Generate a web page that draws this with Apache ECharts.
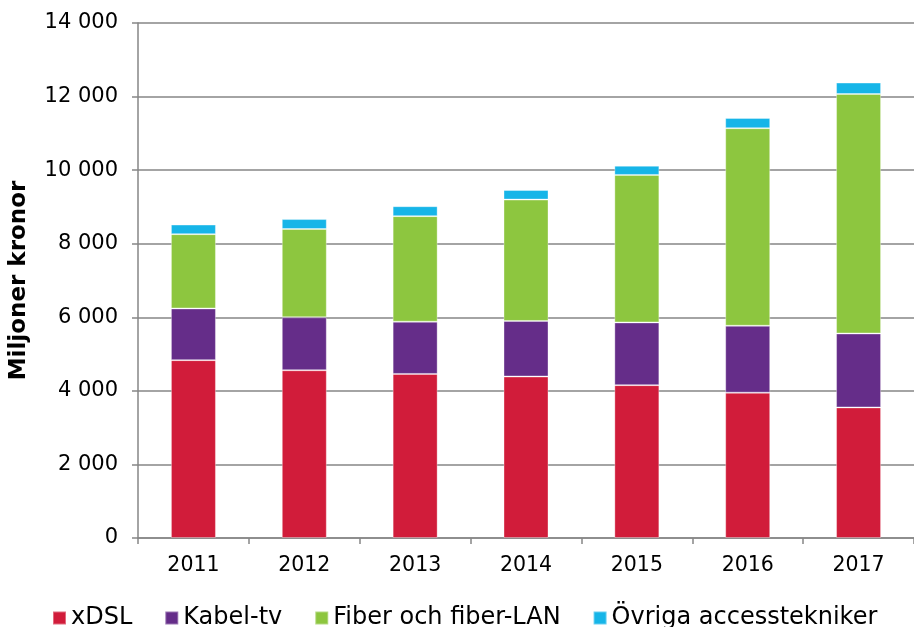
<!DOCTYPE html>
<html>
<head>
<meta charset="utf-8">
<script src="https://cdn.jsdelivr.net/npm/echarts@6/dist/echarts.min.js"></script>
<style>
  html, body { margin: 0; padding: 0; background: #fff; }
  #chart { width: 914px; height: 627px; }
</style>
</head>
<body>
<div id="chart"></div>
<script>
const years = ["2011", "2012", "2013", "2014", "2015", "2016", "2017"];
const xdsl = [4835, 4560, 4460, 4390, 4155, 3950, 3550];
const kabelTv = [1405, 1440, 1420, 1510, 1705, 1820, 2010];
const fiber = [2020, 2400, 2870, 3300, 4010, 5370, 6510];
const ovriga = [260, 270, 270, 260, 250, 280, 310];

const font = "'DejaVu Sans'";
const chart = echarts.init(document.getElementById("chart"));

const bar = (name, data, color) => ({
  name,
  type: "bar",
  stack: "total",
  data,
  barWidth: 45,
  itemStyle: { color, borderColor: "rgba(255,255,255,0.35)", borderWidth: 1 },
});

chart.setOption({
  animation: false,
  textStyle: { fontFamily: font },
  legend: {
    left: 52,
    bottom: -3,
    padding: 0,
    icon: "rect",
    itemWidth: 13,
    itemHeight: 13,
    itemGap: 32,
    textStyle: { fontSize: 24, color: "#000", fontFamily: font },
    data: ["xDSL", "Kabel-tv", "Fiber och fiber-LAN", "Övriga accesstekniker"],
  },
  grid: { top: 23, left: 137, right: -11, bottom: 89 },
  xAxis: {
    type: "category",
    data: years,
    axisLine: { lineStyle: { color: "#868686", width: 1.5 } },
    axisTick: { show: true, length: 6, lineStyle: { color: "#868686", width: 1.5 } },
    axisLabel: { fontSize: 20.5, color: "#000", margin: 17, fontFamily: font },
  },
  yAxis: {
    type: "value",
    min: 0,
    max: 14000,
    interval: 2000,
    name: "Miljoner kronor",
    nameLocation: "middle",
    nameGap: 107,
    nameTextStyle: { fontSize: 23, fontWeight: "bold", color: "#000", fontFamily: font },
    axisLine: { show: true, lineStyle: { color: "#868686", width: 1.5 } },
    axisTick: { show: true, length: 6, lineStyle: { color: "#868686", width: 1.5 } },
    axisLabel: {
      fontSize: 21,
      color: "#000",
      margin: 20,
      fontFamily: font,
      formatter: (v) => v.toLocaleString("en-US").replace(/,/g, " "),
    },
    splitLine: { lineStyle: { color: "#868686", width: 1.5 } },
  },
  series: [
    bar("xDSL", xdsl, "#D11C3A"),
    bar("Kabel-tv", kabelTv, "#652D89"),
    bar("Fiber och fiber-LAN", fiber, "#8DC63F"),
    bar("Övriga accesstekniker", ovriga, "#16B5E8"),
  ],
});
</script>
</body>
</html>
